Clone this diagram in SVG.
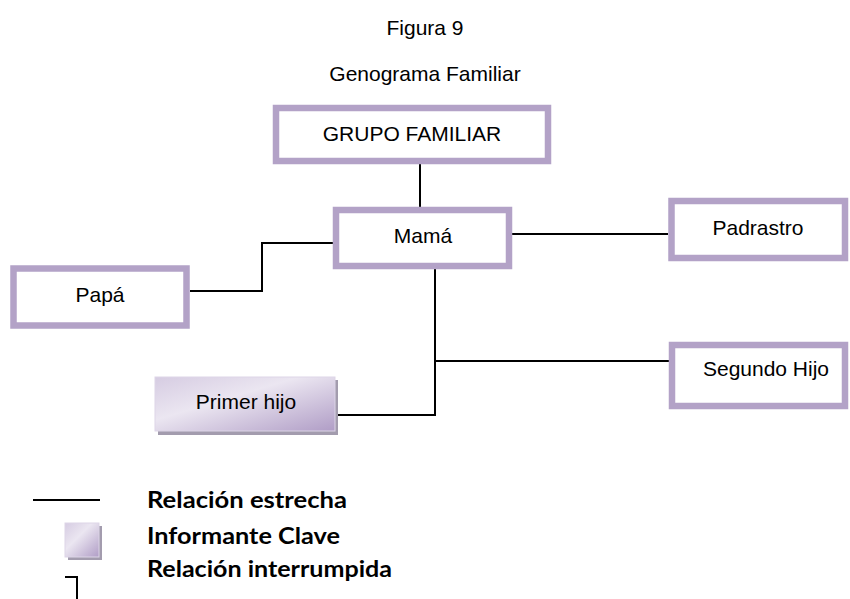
<svg xmlns="http://www.w3.org/2000/svg" width="850" height="599" viewBox="0 0 850 599">
<style>
.box{fill:#fff;stroke:#b3a2c7;stroke-width:6.5}
.t{font-family:"Liberation Sans",Arial,sans-serif;font-size:21px;fill:#000}
.c{fill:none;stroke:#000;stroke-width:2}
.lg{font-family:Lato,"Open Sans",sans-serif;font-weight:bold;font-size:23px;fill:#000}
</style>
<defs>
<linearGradient id="kg" x1="0" y1="0" x2="1" y2="1">
<stop offset="0" stop-color="#d6cce2"/>
<stop offset="0.4" stop-color="#ebe6f1"/>
<stop offset="1" stop-color="#b09dc6"/>
</linearGradient>
</defs>
<rect width="850" height="599" fill="#fff"/>
<text class="t" x="425" y="35" text-anchor="middle">Figura 9</text>
<text class="t" x="425" y="81" text-anchor="middle">Genograma Familiar</text>

<g id="connectors">
<path class="c" d="M420 164V210"/>
<path class="c" d="M190 291H262V243H336"/>
<path class="c" d="M509 234H668"/>
<path class="c" d="M435 266V415H337"/>
<path class="c" d="M435 361H669"/>
</g>

<g id="grupo">
<rect class="box" x="276" y="108" width="272" height="53"/>
<text class="t" x="412" y="141" text-anchor="middle">GRUPO FAMILIAR</text>
</g>
<g id="mama">
<rect class="box" x="336" y="210" width="173" height="56"/>
<text class="t" x="423" y="243" text-anchor="middle">Mamá</text>
</g>
<g id="papa">
<rect class="box" x="13.5" y="268.5" width="173" height="57"/>
<text class="t" x="100" y="302" text-anchor="middle">Papá</text>
</g>
<g id="padrastro">
<rect class="box" x="671.5" y="201" width="173.5" height="57"/>
<text class="t" x="758" y="235" text-anchor="middle">Padrastro</text>
</g>
<g id="segundo">
<rect class="box" x="672" y="345" width="173" height="61"/>
<text class="t" x="766" y="376" text-anchor="middle">Segundo Hijo</text>
</g>
<g id="primer">
<rect x="158" y="380" width="180" height="55" fill="#a39cae"/>
<rect x="155" y="377" width="180" height="54" fill="url(#kg)" stroke="#ddd5e7" stroke-width="1"/>
<text class="t" x="246" y="409" text-anchor="middle">Primer hijo</text>
</g>

<g id="legend">
<line x1="33" y1="500" x2="100" y2="500" stroke="#000" stroke-width="2"/>
<text class="lg" x="147" y="508" textLength="200" lengthAdjust="spacingAndGlyphs">Relación estrecha</text>
<rect x="68" y="526" width="34" height="34" fill="#a39cae"/>
<rect x="65" y="523" width="34" height="34" fill="url(#kg)" stroke="#ddd5e7" stroke-width="1"/>
<text class="lg" x="147" y="544" textLength="193" lengthAdjust="spacingAndGlyphs">Informante Clave</text>
<path d="M65 577H77V599" fill="none" stroke="#000" stroke-width="2"/>
<text class="lg" x="147" y="577" textLength="245" lengthAdjust="spacingAndGlyphs">Relación interrumpida</text>
</g>
</svg>
